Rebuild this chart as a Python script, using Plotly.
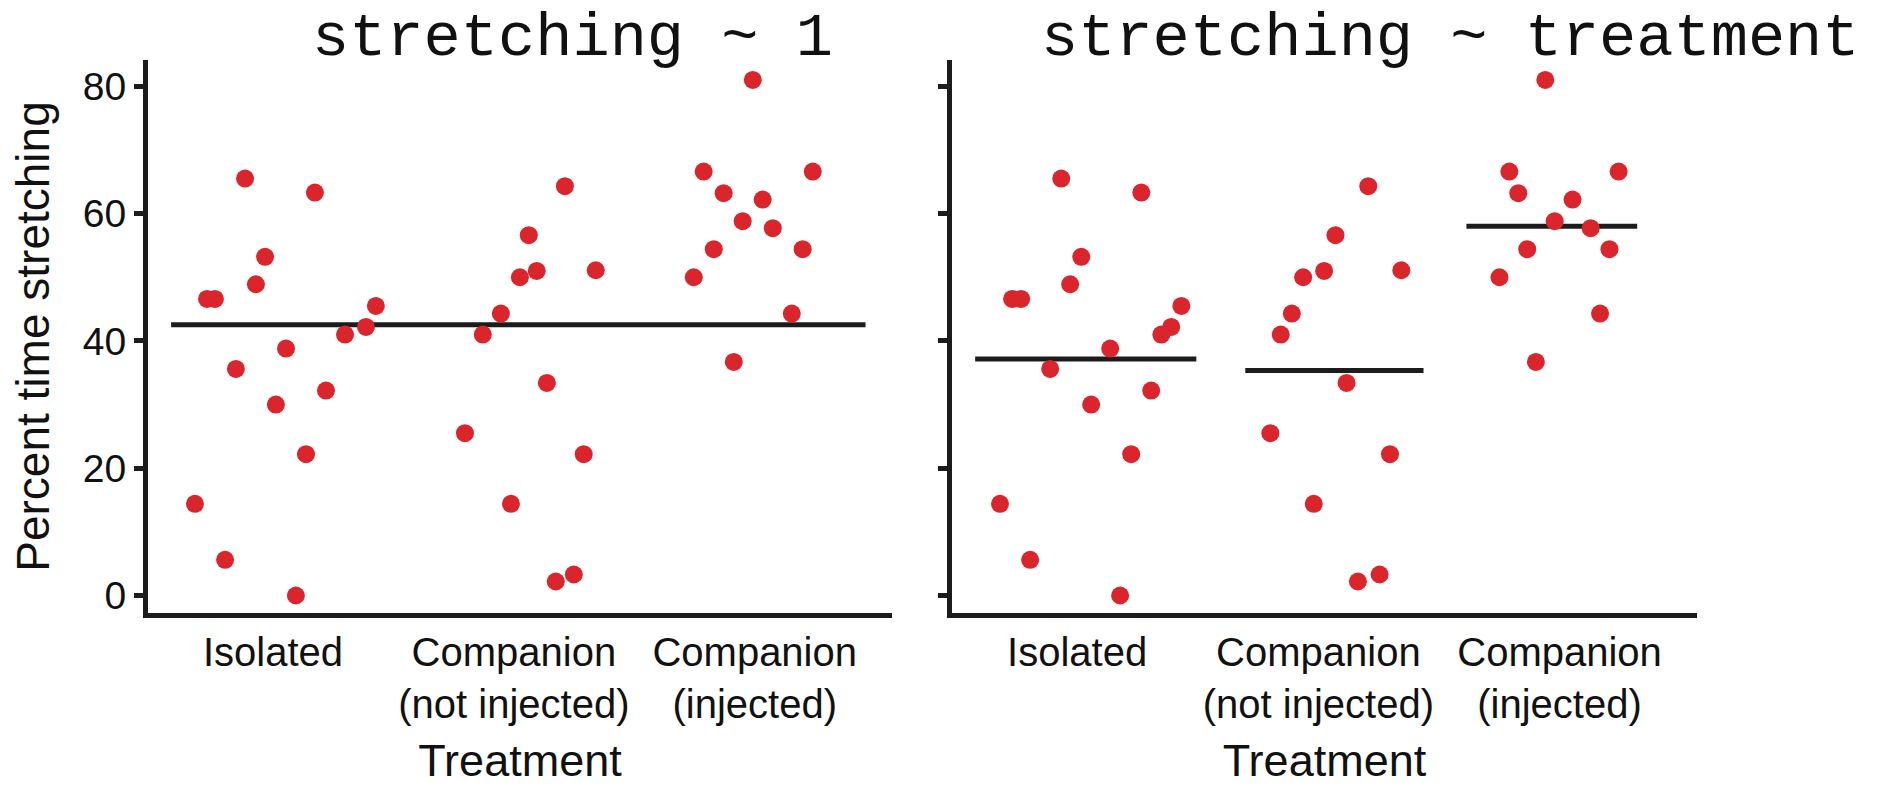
import numpy as np
import plotly.graph_objects as go

# ---------------- data ----------------
categories = ["Isolated", "Companion<br>(not injected)", "Companion<br>(injected)"]
tick_positions = [1, 2, 3]

isolated = [46.6, 46.6, 65.5, 53.2, 48.9, 63.3, 45.5, 42.2, 41.0, 38.8, 35.6,
            30.0, 32.2, 22.2, 14.4, 5.6, 0.0]
companion_not_injected = [41.0, 44.3, 50.0, 51.0, 56.6, 64.3, 51.1, 33.4, 25.5,
                          22.2, 14.4, 2.2, 3.3]
companion_injected = [81.0, 66.6, 66.6, 63.2, 62.2, 58.8, 57.7, 54.4, 54.4,
                      50.0, 44.3, 36.7]

# horizontal jitter of each point as seen in each panel (category units)
jitter_left_isolated = [-0.274, -0.241, -0.116, -0.033, -0.071, 0.174, 0.427, 0.386,
                        0.299, 0.054, -0.154, 0.012, 0.220, 0.137, -0.324, -0.199, 0.095]
jitter_left_not_injected = [-0.129, -0.054, 0.025, 0.095, 0.062, 0.212, 0.340, 0.137,
                            -0.203, 0.290, -0.012, 0.174, 0.249]
jitter_left_injected = [-0.008, -0.212, 0.241, -0.129, 0.033, -0.050, 0.075, -0.170,
                        0.199, -0.253, 0.154, -0.087]

jitter_right_isolated = [-0.270, -0.232, -0.066, 0.017, -0.029, 0.266, 0.432, 0.390,
                         0.349, 0.137, -0.112, 0.058, 0.307, 0.224, -0.320, -0.195, 0.178]
jitter_right_not_injected = [-0.156, -0.110, -0.063, 0.024, 0.071, 0.207, 0.344, 0.117,
                             -0.199, 0.297, -0.019, 0.164, 0.254]
jitter_right_injected = [-0.059, -0.208, 0.245, -0.171, 0.054, -0.020, 0.129, -0.134,
                         0.207, -0.249, 0.168, -0.098]

y_ticks = [0, 20, 40, 60, 80]

# ---------------- style / layout constants ----------------
W, H = 1893, 786
ML, MR, MT, MB = 148, 0, 60, 173
PW = W - ML - MR
PH = H - MT - MB
DOT = "#D9252B"
INK = "#1c1c1c"
FONT = "Liberation Sans, Arial, sans-serif"
MONO = "Liberation Mono, Courier New, monospace"

x_range = [0.481, 3.57]
y_range = [-2.75, 84.13]
left_segment = [0.577, 3.46]
right_segments = [[0.577, 1.494], [1.697, 2.436], [2.614, 3.322]]

groups = [isolated, companion_not_injected, companion_injected]
jit_left = [jitter_left_isolated, jitter_left_not_injected, jitter_left_injected]
jit_right = [jitter_right_isolated, jitter_right_not_injected, jitter_right_injected]

fig = go.Figure()

# mean lines first (points on top)
overall_mean = float(np.mean(np.concatenate([np.array(g) for g in groups])))
fig.add_trace(go.Scatter(x=left_segment, y=[overall_mean, overall_mean], mode="lines",
                         line=dict(color=INK, width=5), xaxis="x", yaxis="y",
                         hoverinfo="skip", showlegend=False))
for seg, g in zip(right_segments, groups):
    m = float(np.mean(g))
    fig.add_trace(go.Scatter(x=seg, y=[m, m], mode="lines",
                             line=dict(color=INK, width=5), xaxis="x2", yaxis="y2",
                             hoverinfo="skip", showlegend=False))

for pos, g, jl, jr in zip(tick_positions, groups, jit_left, jit_right):
    fig.add_trace(go.Scatter(x=[pos + j for j in jl], y=g, mode="markers",
                             marker=dict(color=DOT, size=18, line=dict(width=0)),
                             xaxis="x", yaxis="y", showlegend=False))
    fig.add_trace(go.Scatter(x=[pos + j for j in jr], y=g, mode="markers",
                             marker=dict(color=DOT, size=18, line=dict(width=0)),
                             xaxis="x2", yaxis="y2", showlegend=False))

xaxis_common = dict(range=x_range, tickvals=tick_positions, ticktext=categories,
                    showline=True, linewidth=5, linecolor=INK, ticks="",
                    showgrid=False, zeroline=False,
                    tickfont=dict(family=FONT, size=40, color="#111"),
                    title=dict(text="Treatment", font=dict(family=FONT, size=45, color="#111"),
                               standoff=27))
yaxis_common = dict(range=y_range, tickvals=y_ticks, showline=True, linewidth=5,
                    linecolor=INK, ticks="outside", ticklen=9, tickwidth=4.5,
                    tickcolor=INK, showgrid=False, zeroline=False,
                    tickfont=dict(family=FONT, size=39, color="#111"))

title_y = 1 + (MT - 1) / PH  # top of the title box, 1 px below the page top

fig.update_layout(
    width=W, height=H,
    margin=dict(l=ML, r=MR, t=MT, b=MB),
    plot_bgcolor="white", paper_bgcolor="white",
    xaxis=dict(domain=[0, (892 - ML) / PW], anchor="y", **xaxis_common),
    yaxis=dict(domain=[0, 1], anchor="x",
               title=dict(text="Percent time stretching",
                          font=dict(family=FONT, size=46, color="#111"), standoff=20),
               **yaxis_common),
    xaxis2=dict(domain=[(952 - ML) / PW, (1697 - ML) / PW], anchor="y2", **xaxis_common),
    yaxis2=dict(domain=[0, 1], anchor="x2", showticklabels=False, **yaxis_common),
    annotations=[
        dict(text="stretching ~ 1", xref="paper", yref="paper",
             x=(310 - ML) / PW, y=title_y, xanchor="left", yanchor="top",
             showarrow=False, font=dict(family=MONO, size=62, color="#111")),
        dict(text="stretching ~ treatment", xref="paper", yref="paper",
             x=(1039 - ML) / PW, y=title_y, xanchor="left", yanchor="top",
             showarrow=False, font=dict(family=MONO, size=62, color="#111")),
    ],
)

fig.write_html("out.html")
